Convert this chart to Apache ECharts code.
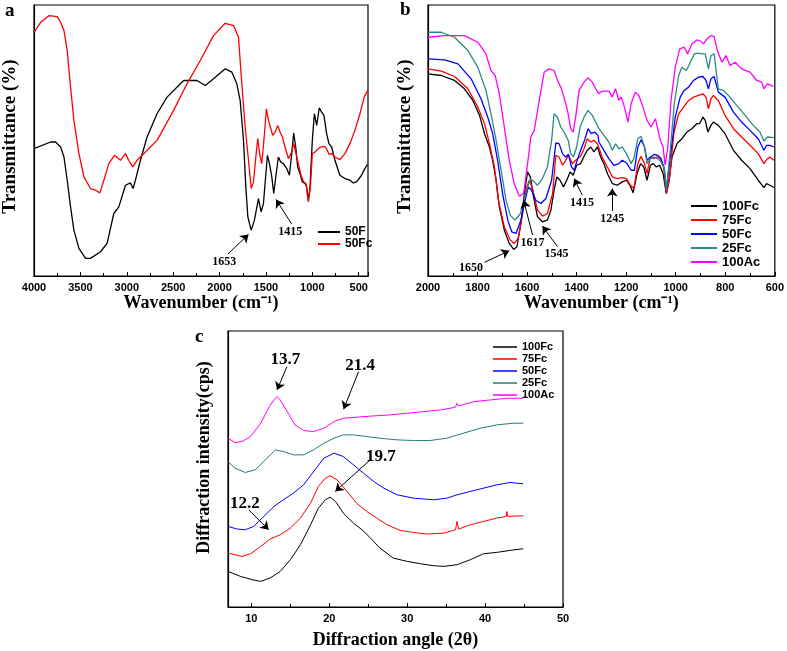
<!DOCTYPE html>
<html><head><meta charset="utf-8">
<script src="https://cdn.jsdelivr.net/npm/echarts@6/dist/echarts.min.js"></script>
<style>html,body{margin:0;padding:0;background:#fff}#c{width:787px;height:651px}</style>
</head><body><div id="c"></div>
<script>
// Panel a: FTIR, wavenumber (cm-1) vs transmittance (a.u.)
const a50F = [[4000,383],[3821,403],[3767,403],[3713,388],[3677,358],[3642,288],[3606,208],[3570,138],[3516,83],[3444,53],[3391,53],[3283,73],[3212,98],[3140,188],[3086,208],[3014,273],[2961,280],[2932,263],[2907,288],[2853,348],[2781,418],[2674,488],[2566,538],[2387,588],[2244,588],[2154,573],[2065,593],[1939,623],[1867,613],[1814,578],[1778,528],[1742,408],[1717,268],[1695,178],[1659,138],[1624,168],[1581,233],[1552,193],[1527,218],[1484,363],[1462,338],[1437,298],[1416,248],[1394,298],[1366,358],[1341,343],[1312,338],[1276,323],[1247,303],[1222,368],[1201,430],[1179,388],[1158,328],[1133,308],[1108,283],[1079,278],[1061,268],[1043,228],[1025,268],[1000,408],[978,488],[953,453],[925,506],[900,493],[875,483],[846,428],[821,398],[792,388],[756,348],[703,303],[649,293],[595,288],[559,280],[523,283],[470,303],[434,323],[405,336]];
const a50Fc = [[4000,733],[3928,763],[3839,783],[3749,780],[3713,763],[3677,738],[3642,678],[3606,568],[3570,468],[3516,368],[3462,298],[3391,263],[3337,258],[3290,250],[3247,288],[3194,338],[3133,363],[3068,348],[3014,368],[2979,348],[2936,328],[2889,348],[2781,378],[2674,408],[2495,498],[2351,578],[2208,648],[2065,723],[1939,760],[1849,753],[1796,718],[1760,578],[1724,448],[1688,348],[1659,263],[1634,283],[1609,358],[1588,413],[1563,358],[1545,338],[1516,428],[1495,503],[1473,468],[1452,448],[1427,423],[1401,433],[1373,453],[1348,433],[1323,418],[1294,388],[1258,353],[1222,373],[1201,398],[1176,368],[1151,338],[1122,303],[1093,283],[1068,278],[1043,223],[1021,268],[1000,368],[971,373],[935,383],[907,388],[871,390],[846,383],[821,366],[792,368],[756,358],[703,350],[649,368],[595,398],[541,438],[487,488],[441,538],[405,558]];

// Panel b: FTIR 2000-600 cm-1
const b100Fc = [[2000,608],[1946,603],[1893,588],[1853,563],[1819,528],[1792,483],[1772,428],[1752,388],[1739,348],[1725,288],[1712,208],[1692,138],[1672,98],[1654,80],[1641,88],[1625,158],[1611,248],[1598,313],[1587,298],[1574,238],[1558,178],[1538,163],[1518,168],[1504,198],[1491,258],[1480,298],[1467,288],[1453,268],[1440,288],[1426,313],[1414,303],[1400,333],[1384,338],[1370,360],[1357,378],[1343,388],[1330,373],[1316,388],[1303,358],[1290,338],[1276,308],[1256,278],[1236,273],[1216,283],[1199,288],[1185,273],[1172,250],[1156,308],[1142,338],[1129,328],[1116,288],[1102,333],[1091,338],[1078,328],[1065,333],[1051,308],[1038,248],[1029,278],[1015,358],[995,398],[975,413],[955,433],[935,443],[915,458],[904,458],[890,478],[881,468],[870,433],[858,453],[848,463],[828,453],[801,428],[767,378],[734,348],[700,323],[667,288],[644,266],[633,278],[620,273],[604,266]];
const b75Fc = [[2000,623],[1946,616],[1893,600],[1839,563],[1799,508],[1772,458],[1752,398],[1732,328],[1716,228],[1692,148],[1668,108],[1652,98],[1636,113],[1618,188],[1605,258],[1591,288],[1578,263],[1558,198],[1538,180],[1518,188],[1497,248],[1484,363],[1471,358],[1457,333],[1444,348],[1433,363],[1417,338],[1404,348],[1384,360],[1370,383],[1357,413],[1343,403],[1330,408],[1316,398],[1297,358],[1276,328],[1256,298],[1236,293],[1216,296],[1199,293],[1183,273],[1169,263],[1153,338],[1140,360],[1126,338],[1116,308],[1102,358],[1089,353],[1075,358],[1062,353],[1049,328],[1038,248],[1024,298],[1008,428],[988,488],[968,508],[948,528],[928,538],[908,543],[890,548],[878,538],[868,503],[858,533],[848,543],[828,528],[801,483],[767,443],[734,418],[700,393],[667,368],[644,338],[633,350],[620,358],[604,348]];
const b50Fc = [[2000,653],[1933,650],[1879,638],[1826,593],[1786,533],[1759,478],[1739,428],[1719,348],[1699,248],[1678,168],[1662,133],[1645,128],[1625,168],[1611,218],[1595,268],[1582,258],[1565,228],[1544,218],[1524,233],[1501,288],[1484,400],[1471,398],[1457,368],[1444,358],[1433,366],[1421,328],[1410,318],[1397,350],[1384,378],[1368,408],[1354,443],[1341,428],[1327,433],[1314,423],[1310,403],[1290,378],[1270,353],[1250,333],[1230,338],[1216,348],[1199,340],[1180,318],[1167,318],[1153,388],[1140,410],[1126,388],[1116,348],[1102,358],[1086,366],[1073,363],[1059,353],[1046,323],[1038,258],[1022,358],[1002,478],[982,538],[966,558],[948,568],[928,588],[908,598],[890,600],[878,588],[868,563],[858,593],[845,600],[828,553],[801,538],[767,493],[734,463],[700,438],[667,413],[644,378],[633,393],[620,393],[604,388]];
const b25Fc = [[2000,733],[1946,733],[1893,718],[1839,678],[1799,628],[1766,558],[1746,488],[1725,408],[1705,318],[1685,228],[1668,183],[1649,168],[1627,188],[1605,248],[1587,293],[1571,283],[1558,273],[1538,293],[1518,328],[1501,408],[1491,488],[1478,478],[1464,448],[1451,433],[1434,408],[1424,368],[1413,358],[1400,388],[1386,448],[1370,478],[1354,498],[1337,483],[1323,463],[1310,443],[1290,423],[1270,403],[1256,378],[1243,398],[1230,383],[1216,388],[1199,368],[1180,338],[1169,353],[1153,413],[1140,420],[1126,388],[1116,338],[1102,353],[1086,358],[1073,353],[1059,343],[1046,323],[1038,258],[1022,378],[1006,518],[988,603],[975,628],[957,618],[941,643],[925,668],[908,670],[894,668],[881,668],[868,623],[858,663],[845,668],[828,563],[807,558],[781,538],[754,513],[720,483],[687,453],[660,433],[644,406],[630,418],[604,416]];
const b100Ac = [[2000,718],[1933,723],[1853,723],[1799,703],[1766,668],[1746,618],[1729,603],[1712,548],[1692,448],[1672,348],[1652,278],[1631,240],[1614,248],[1598,338],[1585,418],[1571,438],[1551,528],[1531,613],[1511,623],[1491,618],[1477,588],[1464,568],[1451,538],[1437,498],[1424,443],[1414,433],[1404,478],[1390,558],[1370,583],[1354,596],[1337,583],[1323,563],[1310,548],[1297,556],[1270,556],[1256,538],[1243,563],[1230,528],[1220,538],[1207,508],[1193,463],[1180,518],[1163,553],[1149,543],[1132,508],[1116,468],[1100,448],[1082,473],[1073,443],[1062,408],[1051,388],[1043,333],[1032,388],[1019,528],[1002,628],[984,683],[966,688],[952,668],[935,698],[915,710],[899,706],[888,698],[874,713],[858,723],[845,720],[832,678],[814,643],[797,663],[781,633],[760,643],[734,623],[700,613],[673,588],[653,583],[644,563],[630,578],[606,570]];

// Panel c: XRD, 2-theta vs intensity (a.u.)
const c100Fc = [[7.0,107],[8.6,92],[10.1,82],[11.2,77],[12.4,87],[13.7,107],[15.0,142],[16.3,187],[17.6,247],[18.6,297],[19.5,322],[20.1,330],[20.8,317],[21.8,282],[23.1,252],[24.2,232],[25.3,207],[26.5,177],[28.2,147],[30.0,137],[31.7,130],[33.4,124],[34.7,122],[36.4,127],[38.1,142],[39.8,160],[41.5,164],[43.2,170],[44.9,175]];
const c75Fc = [[7.0,162],[7.9,157],[8.8,152],[9.9,160],[11.2,182],[12.4,204],[13.7,217],[15.0,237],[16.3,267],[17.6,312],[18.6,362],[19.5,387],[20.1,394],[21.0,382],[22.3,347],[23.5,312],[24.8,287],[26.1,267],[27.4,247],[29.1,230],[30.8,224],[32.5,219],[34.7,222],[36.2,232],[36.4,257],[36.6,234],[38.1,247],[39.8,257],[41.5,267],[42.7,272],[42.8,287],[42.9,272],[44.9,274]];
const c50Fc = [[7.0,242],[8.2,234],[9.2,232],[10.3,242],[11.6,272],[12.9,302],[14.1,322],[15.4,342],[16.7,367],[18.0,407],[19.3,447],[20.6,462],[21.8,452],[23.1,427],[24.4,402],[25.7,377],[27.0,357],[28.7,337],[30.8,327],[33.4,322],[35.1,327],[36.4,337],[38.1,347],[39.8,357],[41.5,367],[43.2,374],[44.9,370]];
const c25Fc = [[7.0,437],[7.9,417],[9.2,404],[10.5,412],[11.8,442],[13.1,472],[14.1,467],[15.4,457],[16.7,457],[18.0,472],[19.3,492],[20.6,507],[21.8,517],[23.1,517],[24.8,512],[26.5,507],[28.7,502],[30.8,500],[32.9,500],[35.1,507],[37.2,522],[39.4,537],[41.5,547],[43.6,552],[44.9,552]];
const c100Ac = [[7.0,507],[7.9,494],[8.8,497],[9.9,512],[11.2,552],[12.3,602],[12.9,622],[13.3,632],[13.7,622],[14.6,587],[15.6,547],[16.7,530],[18.0,527],[19.3,537],[20.6,557],[21.8,567],[23.5,570],[25.7,574],[27.8,577],[30.0,582],[32.1,587],[34.3,592],[36.2,600],[36.4,612],[36.6,604],[38.6,617],[40.7,622],[42.9,627],[44.9,627]];

// Annotations: [label, textX, textY, tailX, tailY, headX, headY]
const annA = [['1653',1950,43,1911,66,1688,125],['1415',1237,134,1222,156,1391,230]];
const annB = [['1650',1826,25,1772,41,1672,76],['1617',1578,100,1578,123,1614,228],['1545',1481,65,1477,88,1538,150],['1415',1378,221,1377,243,1410,293],['1245',1256,173,1256,196,1256,263]];
const annC = [['13.7',14.36,742,14.57,722,13.29,652],['21.4',23.97,726,23.76,707,21.84,594],['19.7',26.62,452,25.26,442,20.77,347],['12.2',9.15,312,9.66,292,12.22,232]];

const serif = 'Liberation Serif';
const sans = 'Liberation Sans';

function marks(ann, size) {
  return {
    markLine: {
      silent: true, symbol: ['none','arrow'], symbolSize: 8,
      label: {show: false}, lineStyle: {color: '#000', width: 1, type: 'solid'},
      itemStyle: {color: '#000'},
      emphasis: {disabled: true},
      data: ann.map(a => [{coord: [a[3], a[4]]}, {coord: [a[5], a[6]]}])
    },
    markPoint: {
      silent: true, symbol: 'circle', symbolSize: 1,
      itemStyle: {color: 'rgba(0,0,0,0)'},
      label: {show: true, position: 'inside', formatter: '{b}', color: '#000',
              fontFamily: serif, fontWeight: 'bold', fontSize: size},
      data: ann.map(a => ({name: a[0], coord: [a[1], a[2]]}))
    }
  };
}

function line(name, data, color, xi, yi, w, extra) {
  return Object.assign({
    type: 'line', name: name, data: data, xAxisIndex: xi, yAxisIndex: yi,
    symbol: 'none', showSymbol: false, animation: false, z: 3,
    lineStyle: {color: color, width: w}, itemStyle: {color: color}
  }, extra || {});
}

function xAx(gi, min, max, inverse, interval, name, gap, fs, nfs, showMin) {
  const o = {
    type: 'value', gridIndex: gi, min: min, max: max, inverse: inverse,
    name: name, nameLocation: 'middle', nameGap: gap,
    nameTextStyle: {fontFamily: serif, fontWeight: 'bold', fontSize: nfs, color: '#000'},
    axisLine: {show: true, lineStyle: {color: '#000', width: 1.2}},
    axisTick: {show: true, inside: true, length: 4, lineStyle: {color: '#000'}},
    minorTick: {show: true, splitNumber: 2, length: 3, lineStyle: {color: '#000'}},
    splitLine: {show: false},
    axisLabel: {fontFamily: sans, fontWeight: 'bold', fontSize: fs, color: '#000', margin: 6,
                showMinLabel: showMin, formatter: v => String(v)}
  };
  if (interval) o.interval = interval; else o.splitNumber = 7;
  return o;
}
function yAx(gi, max, name, gap, nfs, shift) {
  return {
    type: 'value', gridIndex: gi, min: 0, max: max,
    name: name, nameLocation: 'middle', nameGap: gap,
    nameTextStyle: {fontFamily: serif, fontWeight: 'bold', fontSize: nfs, color: '#000', padding: [0, 0, 0, shift]},
    axisLine: {show: true, lineStyle: {color: '#000', width: 1.2}},
    axisTick: {show: false}, axisLabel: {show: false}, splitLine: {show: false}
  };
}

const cTeal = '#2a8a84';
const option = {
  backgroundColor: '#fff',
  animation: false,
  grid: [
    {left: 33, top: 5, width: 335, height: 271, show: true, borderColor: '#000', borderWidth: 1.2, backgroundColor: 'transparent'},
    {left: 428, top: 5, width: 349, height: 271, show: true, borderColor: '#000', borderWidth: 1.2, backgroundColor: 'transparent'},
    {left: 228, top: 331, width: 335, height: 276, show: true, borderColor: '#000', borderWidth: 1.2, backgroundColor: 'transparent'}
  ],
  xAxis: [
    xAx(0, 400, 4000, true, null, 'Wavenumber (cm\u207B\u00B9)', 12, 11, 18, false),
    xAx(1, 600, 2000, true, 200, 'Wavenumber (cm\u207B\u00B9)', 12, 11, 18, true),
    Object.assign(xAx(2, 7, 50, false, null, 'Diffraction angle (2\u03B8)', 24, 11, 18, false), {splitNumber: 5})
  ],
  yAxis: [
    yAx(0, 815, 'Transmittance (%)', 14, 19, 8),
    yAx(1, 815, 'Transmittance (%)', 13, 19, 8),
    yAx(2, 829, 'Diffraction intensity(cps)', 15, 18, 23)
  ],
  legend: [
    {left: 313, top: 221, orient: 'vertical', icon: 'rect', itemWidth: 22, itemHeight: 2, itemGap: 0,
     data: ['50F','50Fc'], textStyle: {fontFamily: sans, fontWeight: 'bold', fontSize: 12, lineHeight: 12, color: '#000'}},
    {left: 686, top: 194, orient: 'vertical', icon: 'rect', itemWidth: 26, itemHeight: 2, itemGap: 0,
     data: ['100Fc','75Fc','50Fc ','25Fc','100Ac'], textStyle: {fontFamily: sans, fontWeight: 'bold', fontSize: 13, lineHeight: 14, color: '#000'}},
    {left: 488, top: 336, orient: 'vertical', icon: 'rect', itemWidth: 24, itemHeight: 1.5, itemGap: 0,
     data: ['100Fc ','75Fc ','50Fc  ','25Fc ','100Ac '], textStyle: {fontFamily: sans, fontWeight: 'bold', fontSize: 11, lineHeight: 12, color: '#000'}}
  ],
  graphic: [
    {type: 'text', left: 5, top: 2, style: {text: 'a', font: 'bold 19px "Liberation Serif"', fill: '#000'}},
    {type: 'text', left: 400, top: 1, style: {text: 'b', font: 'bold 19px "Liberation Serif"', fill: '#000'}},
    {type: 'text', left: 195, top: 328, style: {text: 'c', font: 'bold 19px "Liberation Serif"', fill: '#000'}}
  ],
  series: [
    line('50F', a50F, '#000', 0, 0, 1.3, marks(annA, 12)),
    line('50Fc', a50Fc, '#ff0000', 0, 0, 1.3),
    line('100Fc', b100Fc, '#000', 1, 1, 1.3, marks(annB, 12)),
    line('75Fc', b75Fc, '#ff0000', 1, 1, 1.3),
    line('50Fc ', b50Fc, '#0000ff', 1, 1, 1.3),
    line('25Fc', b25Fc, cTeal, 1, 1, 1.3),
    line('100Ac', b100Ac, '#ff00ff', 1, 1, 1.3),
    line('100Fc ', c100Fc, '#000', 2, 2, 1, marks(annC, 17)),
    line('75Fc ', c75Fc, '#ff0000', 2, 2, 1),
    line('50Fc  ', c50Fc, '#0000ff', 2, 2, 1),
    line('25Fc ', c25Fc, '#1f7f7a', 2, 2, 1),
    line('100Ac ', c100Ac, '#ff00ff', 2, 2, 1)
  ]
};
const chart = echarts.init(document.getElementById('c'), null, {renderer: 'canvas'});
chart.setOption(option);
</script></body></html>
